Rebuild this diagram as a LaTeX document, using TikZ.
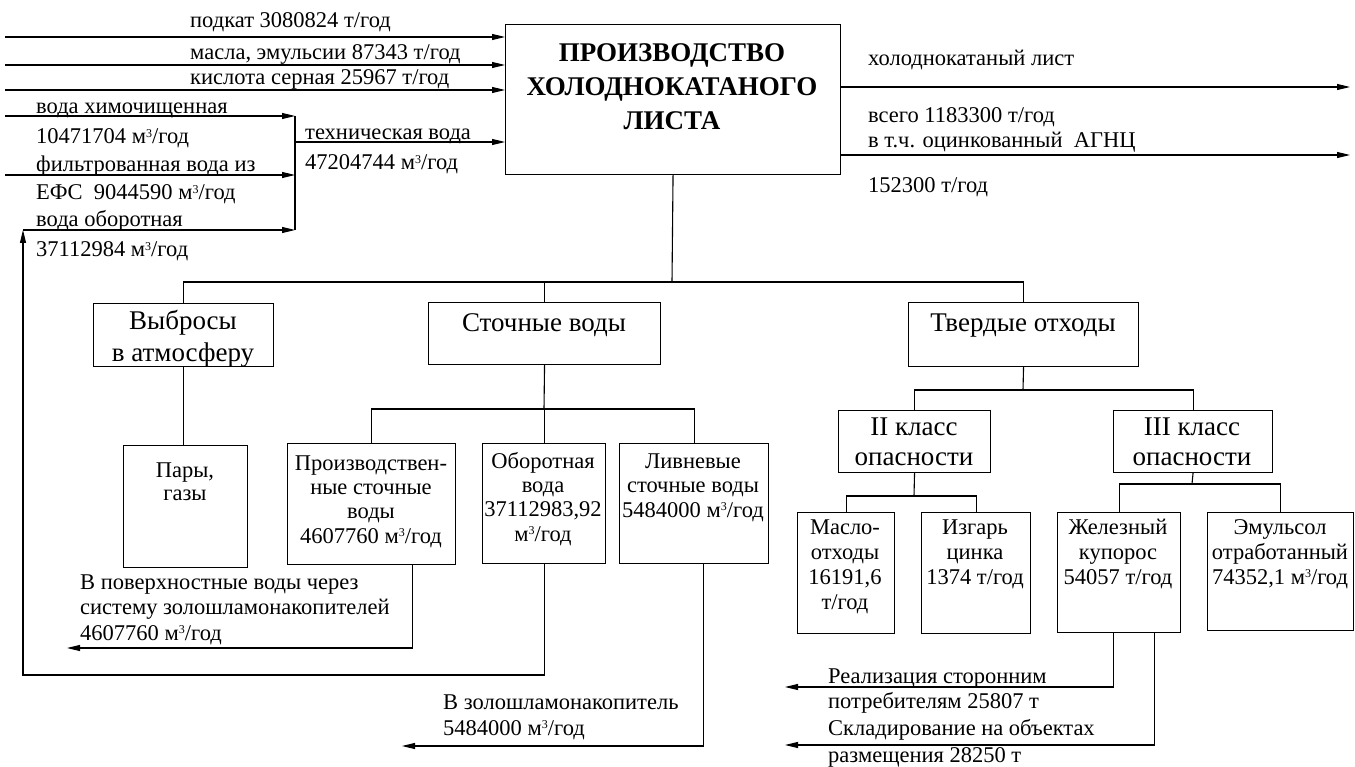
\documentclass[tikz,border=0pt]{standalone}
\usepackage{fontspec}
\setmainfont{Liberation Serif}
\usetikzlibrary{arrows.meta}
\begin{document}
\begin{tikzpicture}[x=1pt,y=-1pt,
  ln/.style={line width=1.1pt},
  arr/.style={line width=1.1pt,-{Triangle[length=13pt,width=6pt]}},
  box/.style={draw,line width=1.1pt,anchor=north west,inner sep=0pt},
  fl/.style={font=\fontsize{22.5}{25}\selectfont,anchor=base west,inner sep=0pt},
  bt/.style={font=\fontsize{22.5}{25}\selectfont,anchor=base,inner sep=0pt},
  ht/.style={font=\fontsize{27}{30}\selectfont,anchor=base,inner sep=0pt},
  tt/.style={font=\fontsize{27}{30}\selectfont\bfseries,anchor=base,inner sep=0pt},
]
\fill[white] (0,0) rectangle (1355,767);
\useasboundingbox (0,0) rectangle (1355,767);
\newcommand\mc{м\raisebox{6.5pt}{\fontsize{12}{12}\selectfont 3}/год}

% ---------- main box
\node[box,minimum width=335pt,minimum height=150pt] (main) at (505,24) {};
\node[tt] (tl1) at (672,62) {ПРОИЗВОДСТВО};
\node[tt] (tl2) at (672,96) {ХОЛОДНОКАТАНОГО};
\node[tt] (tl3) at (672,130) {ЛИСТА};

% ---------- inputs
\coordinate (i1) at (5,37);
\coordinate (i2) at (5,65);
\coordinate (i3) at (5,90);
\coordinate (i4) at (5,116);
\coordinate (i5) at (5,175);
\coordinate (rc) at (23,230);
\coordinate (jx) at (295,142);
\draw[arr] (i1) -- (i1 -| main.west);
\draw[arr] (i2) -- (i2 -| main.west);
\draw[arr] (i3) -- (i3 -| main.west);
\draw[arr] (i4) -- (i4 -| jx);
\draw[arr] (i5) -- (i5 -| jx);
\draw[arr] (rc) -- (rc -| jx);
\draw[ln] (jx |- i4) -- (jx |- rc);
\draw[arr] (jx) -- (jx -| main.west);

\node[fl] (lp) at (190,28) {подкат 3080824 т/год};
\node[fl] (lm) at (190,60) {масла, эмульсии 87343 т/год};
\node[fl] (lk) at (190,85) {кислота серная 25967 т/год};
\node[fl] (lh1) at (36,114) {вода химочищенная};
\node[fl] (lh2) at (36,144) {10471704 \mc};
\node[fl] (lf1) at (36,172) {фильтрованная вода из};
\node[fl] (lf2) at (36,200) {ЕФС\ \ 9044590 \mc};
\node[fl] (lo1) at (36,227) {вода оборотная};
\node[fl] (lo2) at (36,257) {37112984 \mc};
\node[fl] (lt1) at (305,140) {техническая вода};
\node[fl] (lt2) at (305,170) {47204744 \mc};

% ---------- outputs
\coordinate (o1) at (1350,87);
\coordinate (o2) at (1350,155);
\draw[arr] (main.east |- o1) -- (o1);
\draw[arr] (main.east |- o2) -- (o2);
\node[fl] (ro1) at (868,66) {холоднокатаный лист};
\node[fl] (ro2) at (868,123) {всего 1183300 т/год};
\node[fl] (ro3) at (868,148) {в т.ч. оцинкованный\ \ АГНЦ};
\node[fl] (ro4) at (868,193) {152300 т/год};

% ---------- level 1
\node[box,minimum width=180pt,minimum height=63pt] (vyb) at (93,303) {};
\node[ht] (vyb1) at (183,330) {Выбросы};
\node[ht] (vyb2) at (183,362) {в атмосферу};
\node[box,minimum width=232pt,minimum height=62pt] (st) at (428,302) {};
\node[ht] (st1) at (544,331) {Сточные воды};
\node[box,minimum width=230pt,minimum height=64pt] (tv) at (908,302) {};
\node[ht] (tv1) at (1023,331) {Твердые отходы};

\coordinate (b1) at (672,282);
\draw[ln] (main.south) -- (b1);
\draw[ln] (vyb.north) |- (b1);
\draw[ln] (tv.north) |- (b1);
\draw[ln] (st.north) -- (st.north |- b1);

% ---------- level 2 : emissions / waste water
\node[box,minimum width=124pt,minimum height=122pt] (pary) at (123,445) {};
\node[bt] (pary1) at (185,477) {Пары,};
\node[bt] (pary2) at (185,500) {газы};
\draw[ln] (vyb.south) -- (vyb.south |- pary.north);

\node[box,minimum width=168pt,minimum height=121pt] (proi) at (287,443) {};
\node[bt] (proi1) at (371,470) {Производствен-};
\node[bt] (proi2) at (371,494) {ные сточные};
\node[bt] (proi3) at (371,518) {воды};
\node[bt] (proi4) at (371,543) {4607760 \mc};

\node[box,minimum width=123pt,minimum height=120pt] (obo) at (482,443) {};
\node[bt] (obo1) at (543,468) {Оборотная};
\node[bt] (obo2) at (543,492) {вода};
\node[bt] (obo3) at (543,516) {37112983,92};
\node[bt] (obo4) at (543,541) {\mc};

\node[box,minimum width=149pt,minimum height=120pt] (liv) at (619,443) {};
\node[bt] (liv1) at (693,468) {Ливневые};
\node[bt] (liv2) at (693,492) {сточные воды};
\node[bt] (liv3) at (693,517) {5484000 \mc};

\coordinate (b2) at (544,409);
\draw[ln] (st.south) -- (b2);
\draw[ln] (proi.north) |- (b2);
\draw[ln] (liv.north) |- (b2);
\draw[ln] (obo.north) -- (obo.north |- b2);

% ---------- level 2 : solid waste
\node[box,minimum width=152pt,minimum height=62pt] (k2) at (838,410) {};
\node[ht] (k21) at (914,435) {II класс};
\node[ht] (k22) at (914,465) {опасности};
\node[box,minimum width=159pt,minimum height=62pt] (k3) at (1113,410) {};
\node[ht] (k31) at (1192,435) {III класс};
\node[ht] (k32) at (1192,465) {опасности};
\coordinate (b3) at (1023,390);
\draw[ln] (tv.south) -- (b3);
\draw[ln] (k2.north) |- (b3);
\draw[ln] (k3.north) |- (b3);

\node[box,minimum width=97pt,minimum height=121pt] (maslo) at (797,512) {};
\node[bt] (maslo1) at (845,534) {Масло-};
\node[bt] (maslo2) at (845,559) {отходы};
\node[bt] (maslo3) at (845,584) {16191,6};
\node[bt] (maslo4) at (845,609) {т/год};
\node[box,minimum width=109pt,minimum height=121pt] (izg) at (921,512) {};
\node[bt] (izg1) at (975,534) {Изгарь};
\node[bt] (izg2) at (975,559) {цинка};
\node[bt] (izg3) at (975,584) {1374 т/год};
\coordinate (b4) at (914,496);
\draw[ln] (k2.south) -- (b4);
\draw[ln] (maslo.north) |- (b4);
\draw[ln] (izg.north) |- (b4);

\node[box,minimum width=123pt,minimum height=120pt] (zhel) at (1057,512) {};
\node[bt] (zhel1) at (1118,534) {Железный};
\node[bt] (zhel2) at (1118,559) {купорос};
\node[bt] (zhel3) at (1118,584) {54057 т/год};
\node[box,minimum width=146pt,minimum height=118pt] (emu) at (1207,512) {};
\node[bt] (emu1) at (1280,534) {Эмульсол};
\node[bt] (emu2) at (1280,559) {отработанный};
\node[bt] (emu3) at (1280,584) {74352,1 \mc};
\coordinate (b5) at (1192,484);
\draw[ln] (k3.south) -- (b5);
\draw[ln] (zhel.north) |- (b5);
\draw[ln] (emu.north) |- (b5);

% ---------- discharges
\coordinate (a1) at (67,648);
\coordinate (r1) at (23,675);
\coordinate (a2) at (402,746);
\coordinate (a3) at (785,687);
\coordinate (a4) at (785,745);
\draw[arr] ([xshift=41pt]proi.south) |- (a1);
\draw[arr] (obo.south) |- (r1) -- (rc);
\draw[arr] ([xshift=9pt]liv.south) |- (a2);
\draw[arr] ([xshift=-6pt]zhel.south) |- (a3);
\draw[arr] ([xshift=35pt]zhel.south) |- (a4);

\node[fl] (d11) at (80,589) {В поверхностные воды через};
\node[fl] (d12) at (80,614) {систему золошламонакопителей};
\node[fl] (d13) at (80,640) {4607760 \mc};
\node[fl] (d21) at (443,709) {В золошламонакопитель};
\node[fl] (d22) at (443,735) {5484000 \mc};
\node[fl] (d31) at (828,683) {Реализация сторонним};
\node[fl] (d32) at (828,708) {потребителям 25807 т};
\node[fl] (d41) at (828,735) {Складирование на объектах};
\node[fl] (d42) at (828,762) {размещения 28250 т};
\end{tikzpicture}
\end{document}
